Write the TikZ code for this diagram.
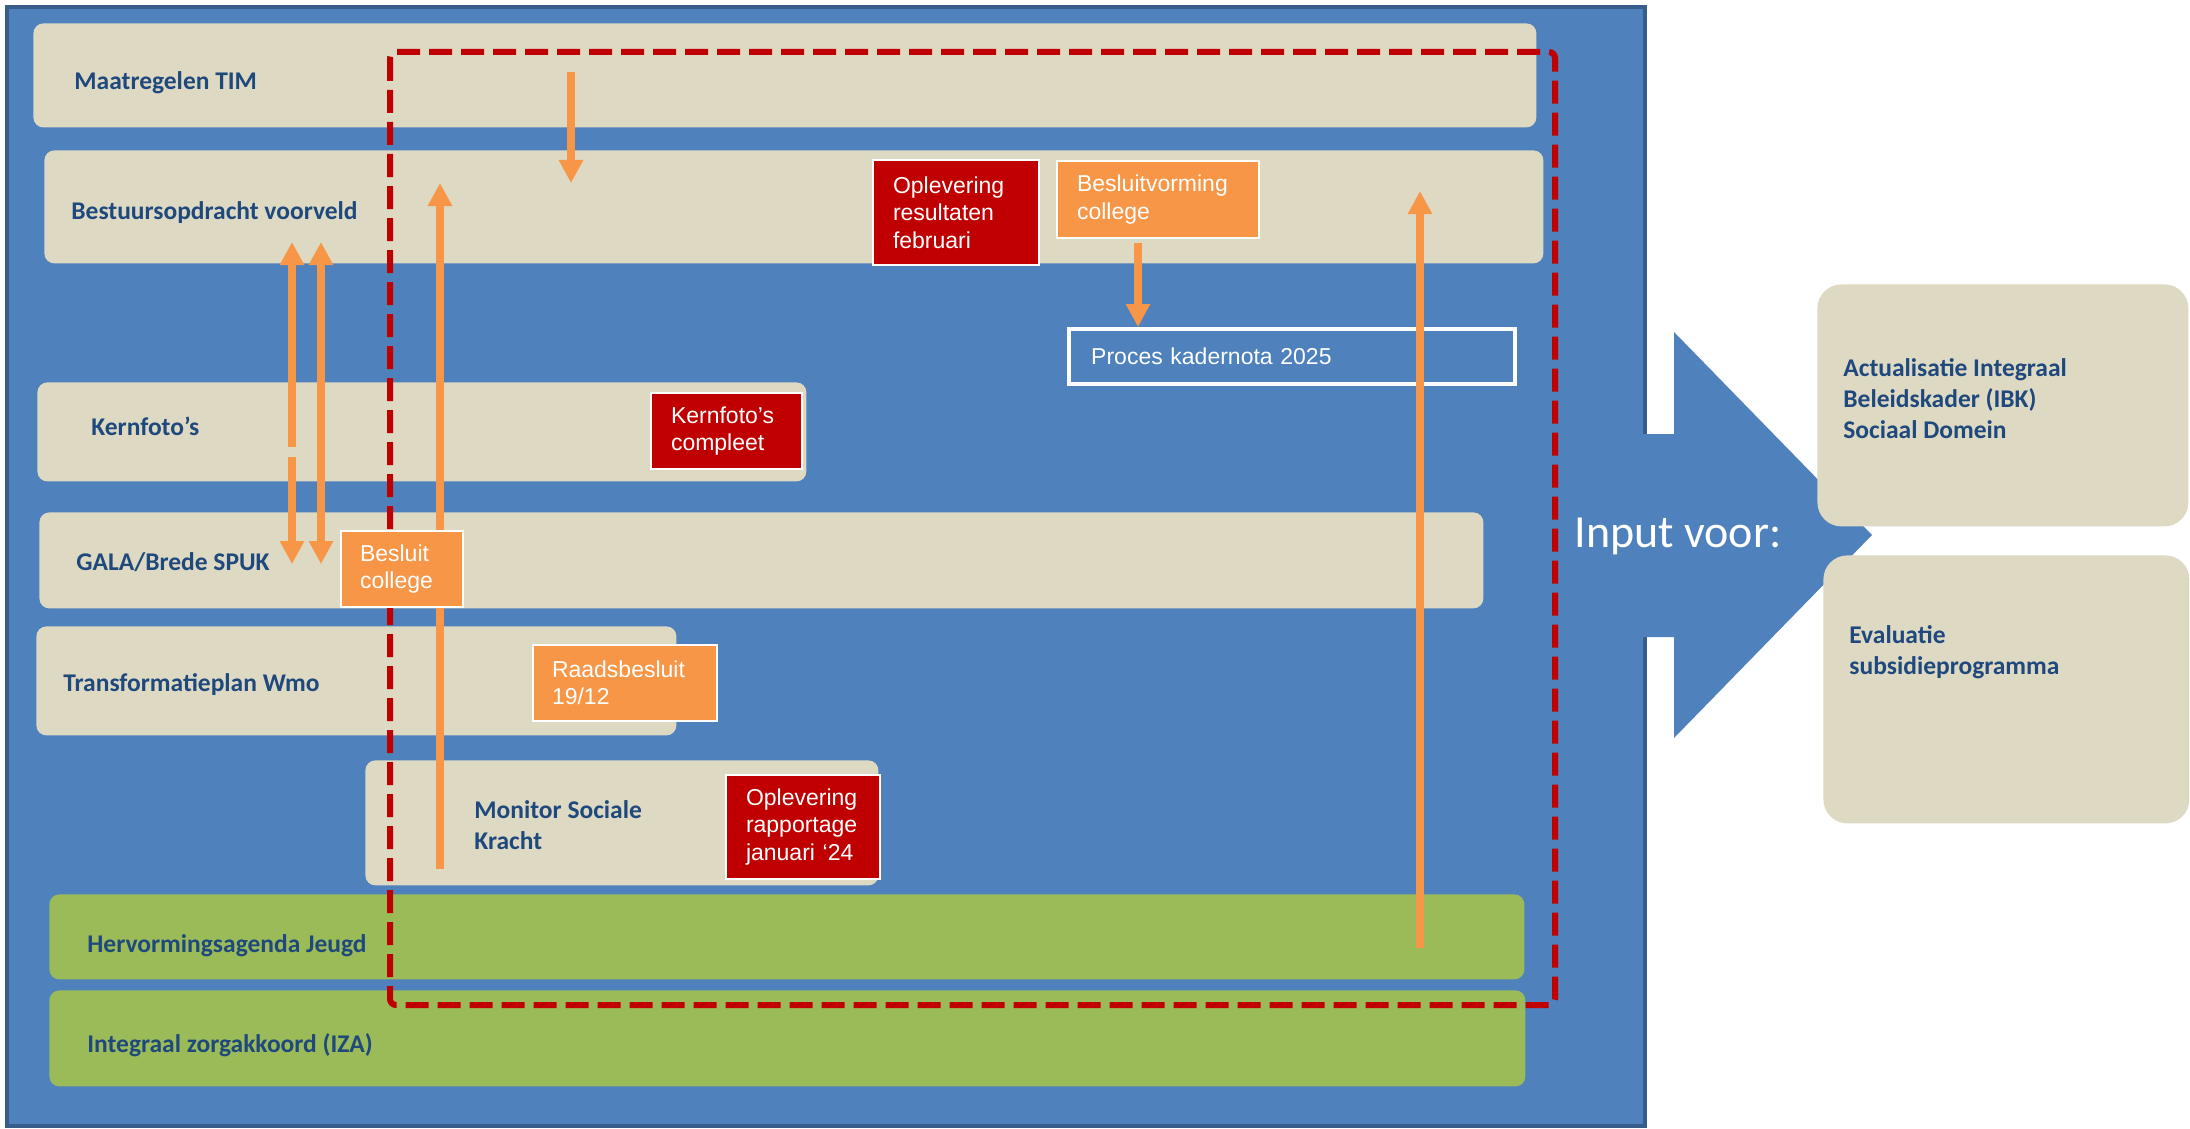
\documentclass[tikz,border=0pt]{standalone}
\usepackage{fontspec}
\setmainfont{Carlito}
\newfontfamily\arialfont{Liberation Sans}
\usetikzlibrary{arrows.meta}

\definecolor{panelblue}{HTML}{4F81BD}
\definecolor{paneledge}{HTML}{385D8A}
\definecolor{lanebeige}{HTML}{DDD9C3}
\definecolor{lanegreen}{HTML}{9BBB59}
\definecolor{labelblue}{HTML}{1F497D}
\definecolor{mijlrood}{HTML}{C00000}
\definecolor{mijloranje}{HTML}{F79646}

\tikzset{
  lane/.style={anchor=north west, inner sep=0pt, fill=lanebeige, rounded corners=5pt},
  greenlane/.style={lane, fill=lanegreen},
  lanelabel/.style={anchor=base west, inner sep=0pt, text=labelblue, align=left,
    font=\bfseries\fontsize{12.75pt}{15.5pt}\selectfont},
  mijlpaal/.style={anchor=north west, inner xsep=10pt, inner ysep=0pt, draw=white,
    line width=1pt, text=white, align=left,
    font=\arialfont\fontsize{11.5pt}{13.75pt}\selectfont},
  rodemijl/.style={mijlpaal, fill=mijlrood},
  oranjemijl/.style={mijlpaal, fill=mijloranje},
  pijl/.style={draw=mijloranje, line width=3.6pt, -{Triangle[width=11.5pt,length=11.5pt]}},
}

\begin{document}
\begin{tikzpicture}[x=0.5pt,y=-0.5pt]
    \useasboundingbox (0,0) rectangle (2190,1129);

    %Panel and big arrow
    \draw[fill=panelblue, draw=paneledge, line width=2pt] (7,7) rectangle (1645,1126);
    \fill[panelblue] (1638,434) -- (1674,434) -- (1674,332) -- (1872,535)
      -- (1674,738) -- (1674,637) -- (1638,637) -- cycle;
    \node[anchor=base west, inner sep=0pt, text=white, font=\fontsize{23pt}{27pt}\selectfont]
      (input) at (1574,547) {Input voor:};

    %Lanes
    \node[lane, minimum width=751.5pt, minimum height=52pt] (tim) at (33,23) {};
    \node[lane, minimum width=749.5pt, minimum height=56.5pt] (bvo) at (44,150) {};
    \node[lane, minimum width=384.5pt, minimum height=49.5pt] (kern) at (37,382) {};
    \node[lane, minimum width=722pt, minimum height=48pt] (gala) at (39,512) {};
    \node[lane, minimum width=320pt, minimum height=54.5pt] (wmo) at (36,626) {};
    \node[lane, minimum width=256.5pt, minimum height=62.5pt] (msk) at (365,760) {};
    \node[greenlane, minimum width=737.5pt, minimum height=42.5pt] (jeugd) at (49,894) {};
    \node[greenlane, minimum width=738pt, minimum height=48pt] (iza) at (49,990) {};

    \node[lane, rounded corners=12pt, minimum width=185.5pt, minimum height=121pt] (ibk) at (1817,284) {};
    \node[lane, rounded corners=12pt, minimum width=183pt, minimum height=134pt] (evs) at (1823,555) {};

    % multi-line labels: base is the last line
    \node[lanelabel] (timlabel) at (74,90) {Maatregelen TIM};
    \node[lanelabel] (bvolabel) at (71,219) {Bestuursopdracht voorveld};
    \node[lanelabel] (kernlabel) at (91,435) {Kernfoto’s};
    \node[lanelabel] (galalabel) at (76,570) {GALA/Brede SPUK};
    \node[lanelabel] (wmolabel) at (63,691) {Transformatieplan Wmo};
    \node[lanelabel] (msklabel) at (474,849) {Monitor Sociale\\Kracht};
    \node[lanelabel] (jeugdlabel) at (87,952) {Hervormingsagenda Jeugd};
    \node[lanelabel] (izalabel) at (87,1052) {Integraal zorgakkoord (IZA)};
    \node[lanelabel] (ibklabel) at (1843,438) {Actualisatie Integraal\\Beleidskader (IBK)\\Sociaal Domein};
    \node[lanelabel] (evslabel) at (1849,674) {Evaluatie\\subsidieprogramma};

    %Scope
    \draw[draw=mijlrood, line width=3pt, dash pattern=on 11.5pt off 4.5pt, rounded corners=3pt]
      (390,52) rectangle (1555,1005);

    %Arrows between lanes
    \coordinate (timuit) at (571,72);
    \coordinate (bvoin) at (571,183);
    \coordinate (mskuit) at (440,869);
    \coordinate (bvoin2) at (440,183);
    \coordinate (kernboven) at (292,447);
    \coordinate (kernonder) at (292,457);
    \coordinate (bvoin3) at (292,242);
    \coordinate (galain) at (292,564);
    \coordinate (bvoin4) at (321,242);
    \coordinate (galain2) at (321,564);
    \coordinate (jeugduit) at (1420,948);
    \coordinate (bvoin5) at (1420,191);

    \draw[pijl] (timuit) -- (bvoin);
    \draw[pijl] (mskuit) -- (bvoin2);
    \draw[pijl] (kernboven) -- (bvoin3);
    \draw[pijl] (kernonder) -- (galain);
    \draw[pijl, {Triangle[width=11.5pt,length=11.5pt]}-{Triangle[width=11.5pt,length=11.5pt]}]
      (bvoin4) -- (galain2);

    %Milestones
    \node[rodemijl, text width=55.5pt, minimum height=38pt] (kfc) at (650,392) {Kernfoto’s\\compleet};
    \node[rodemijl, text width=63pt, minimum height=52.5pt] (orf) at (872,159) {Oplevering\\resultaten\\februari};
    \node[oranjemijl, text width=81pt, minimum height=38.5pt] (bvc) at (1056,160) {Besluitvorming\\college};
    \node[oranjemijl, inner xsep=9.5pt, text width=42pt, minimum height=38pt] (bc) at (340,530) {Besluit\\college};
    \node[oranjemijl, inner xsep=9.5pt, text width=73pt, minimum height=38pt] (rb) at (532,644) {Raadsbesluit\\19/12};
    \node[rodemijl, text width=57pt, minimum height=52pt] (orj) at (725,774) {Oplevering\\rapportage\\januari ‘24};

    \node[mijlpaal, fill=panelblue, line width=2.2pt, inner xsep=11pt, text width=201pt,
      minimum height=27.5pt] (pk25) at (1067,327) {Proces kadernota 2025};

    \draw[pijl] ([xshift=-10pt,yshift=-2pt]bvc.south) -- ([xshift=-10pt]bvc.south |- pk25.north);
    \draw[pijl] (jeugduit) -- (bvoin5);
\end{tikzpicture}
\end{document}
